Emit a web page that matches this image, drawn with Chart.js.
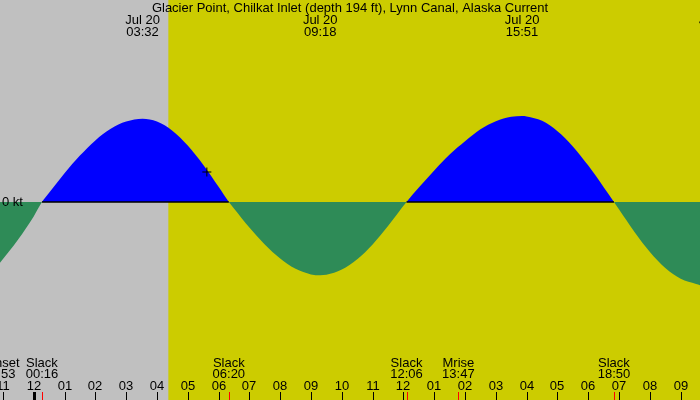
<!DOCTYPE html>
<html>
<head>
<meta charset="utf-8">
<script src="https://cdn.jsdelivr.net/npm/chart.js@4/dist/chart.umd.min.js"></script>
<style>
  html, body { margin: 0; padding: 0; background: #fff; }
  canvas { display: block; }
</style>
</head>
<body>
<canvas id="chart" width="700" height="400"></canvas>
<script>
var chartTitle = "Glacier Point, Chilkat Inlet (depth 194 ft), Lynn Canal, Alaska Current";

// hours after midnight Jul 20 (negative = evening of Jul 19)
var hours = [-1.094, -0.5, 0, 0.267, 0.5, 1, 1.5, 2, 2.5, 3, 3.533, 4, 4.5, 5, 5.5, 6, 6.333,
  6.5, 7, 7.5, 8, 8.5, 9, 9.3, 9.5, 10, 10.5, 11, 11.5, 12.1, 12.5, 13, 13.5, 14, 14.5, 15,
  15.5, 15.85, 16, 16.5, 17, 17.5, 18, 18.5, 18.833, 19, 19.5, 20, 20.5, 21, 21.5, 21.63];
// current speed, knots (+ flood, - ebb)
var knots = [-1.52, -0.93, -0.36, 0, 0.23, 0.72, 1.16, 1.54, 1.83, 2.01, 2.08, 2.01, 1.78, 1.41,
  0.93, 0.38, 0, -0.16, -0.64, -1.06, -1.41, -1.67, -1.81, -1.83, -1.82, -1.69, -1.43, -1.06,
  -0.60, 0, 0.36, 0.79, 1.19, 1.52, 1.82, 2.02, 2.13, 2.15, 2.14, 2.03, 1.77, 1.39, 0.91, 0.37,
  0, -0.19, -0.75, -1.25, -1.65, -1.92, -2.05, -2.08];

var maxHours = [3.533, 9.3, 15.85, 22.15];
var maxDates = ["Jul 20", "Jul 20", "Jul 20", "Jul 20"];
var maxTimes = ["03:32", "09:18", "15:51", "22:09"];

var slackHours = [0.267, 6.333, 12.1, 18.833];

var eventHours = [-1.117, 0.267, 6.333, 12.1, 13.783, 18.833];
var eventNames = ["Sunset", "Slack", "Slack", "Slack", "Mrise", "Slack"];
var eventTimes = ["22:53", "00:16", "06:20", "12:06", "13:47", "18:50"];

var sunriseHours = [4.37];
var sunsetHours = [-1.117];

var nowMarker = [{ x: 5.62, y: 0.75 }];

var tickHours = [-1, 0, 1, 2, 3, 4, 5, 6, 7, 8, 9, 10, 11, 12, 13, 14, 15, 16, 17, 18, 19, 20, 21];
var tickLabels = ["11", "12", "01", "02", "03", "04", "05", "06", "07", "08", "09", "10", "11",
  "12", "01", "02", "03", "04", "05", "06", "07", "08", "09"];

var FONT = "13px 'Liberation Sans', Arial, sans-serif";

var currentPoints = hours.map(function (h, i) { return { x: h, y: knots[i] }; });

// zero line drawn only under the flood parts
var zeroLine = [];
for (var i = 0; i < slackHours.length - 1; i++) {
  var mid = (slackHours[i] + slackHours[i + 1]) / 2;
  var k = hours.findIndex(function (h) { return h >= mid; });
  if (knots[k] > 0) {
    zeroLine.push({ x: slackHours[i], y: 0 }, { x: slackHours[i + 1], y: 0 }, { x: slackHours[i + 1], y: null });
  }
}

var dayNight = {
  id: "dayNight",
  beforeDraw: function (chart) {
    var ctx = chart.ctx, x = chart.scales.x;
    ctx.save();
    ctx.fillStyle = "rgb(204,204,0)";
    ctx.fillRect(0, 0, chart.width, chart.height);
    ctx.fillStyle = "rgb(192,192,192)";
    for (var i = 0; i < sunsetHours.length; i++) {
      var a = Math.max(x.getPixelForValue(sunsetHours[i]), 0);
      var b = x.getPixelForValue(sunriseHours[i]);
      ctx.fillRect(a, 0, b - a, chart.height);
    }
    ctx.restore();
  }
};

var labels = {
  id: "labels",
  afterDraw: function (chart) {
    var ctx = chart.ctx, x = chart.scales.x;
    ctx.save();
    ctx.font = FONT;
    ctx.fillStyle = "#000";
    ctx.textBaseline = "alphabetic";
    ctx.textAlign = "center";
    ctx.fillText(chartTitle, chart.width / 2, 12);

    maxHours.forEach(function (h, i) {
      var px = x.getPixelForValue(h);
      ctx.fillText(maxDates[i], px, 24);
      ctx.fillText(maxTimes[i], px, 36);
    });

    eventHours.forEach(function (h, i) {
      var px = x.getPixelForValue(h);
      ctx.fillText(eventNames[i], px, 367);
      ctx.fillText(eventTimes[i], px, 378);
    });

    tickHours.forEach(function (h, i) {
      var px = Math.round(x.getPixelForValue(h));
      ctx.fillText(tickLabels[i], px, 390);
      if (h === 0) ctx.fillRect(px - 1, 392, 3, 8);
      else ctx.fillRect(px, 392, 1, 8);
    });

    ctx.fillStyle = "rgb(255,0,0)";
    eventHours.forEach(function (h) {
      var px = Math.round(x.getPixelForValue(h));
      ctx.fillRect(px, 392, 1, 8);
    });

    ctx.fillStyle = "#000";
    ctx.textAlign = "left";
    ctx.fillText("0 kt", 2, 206);
    ctx.restore();
  }
};

var chart = new Chart(document.getElementById("chart").getContext("2d"), {
  type: "line",
  data: {
    datasets: [
      {
        label: "Current",
        data: currentPoints,
        borderWidth: 0,
        borderColor: "rgba(0,0,0,0)",
        pointRadius: 0,
        cubicInterpolationMode: "monotone",
        fill: { target: "origin", above: "rgb(0,0,255)", below: "rgb(46,139,87)" },
        order: 2
      },
      {
        label: "Zero",
        data: zeroLine,
        borderColor: "#000",
        borderWidth: 1.5,
        pointRadius: 0,
        spanGaps: false,
        fill: false,
        order: 1
      },
      {
        label: "Now",
        data: nowMarker,
        showLine: false,
        pointStyle: "cross",
        pointRadius: 4.5,
        borderColor: "#000",
        borderWidth: 1,
        order: 0
      }
    ]
  },
  options: {
    responsive: false,
    animation: false,
    layout: { padding: 0, autoPadding: false },
    scales: {
      x: { type: "linear", min: -1.094, max: 21.626, display: false },
      y: { min: -4.95, max: 5.05, display: false }
    },
    plugins: {
      legend: { display: false },
      title: { display: false },
      tooltip: { enabled: false }
    }
  },
  plugins: [dayNight, labels]
});
</script>
</body>
</html>
